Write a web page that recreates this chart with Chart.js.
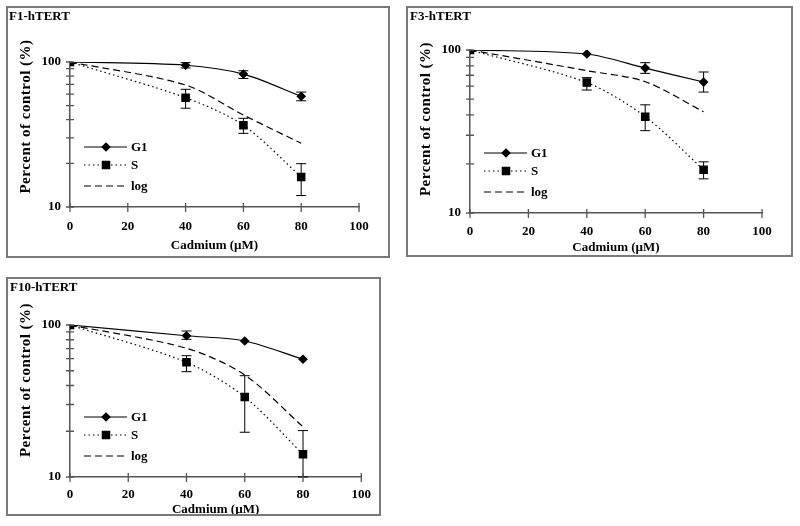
<!DOCTYPE html>
<html><head><meta charset="utf-8">
<script src="https://cdn.jsdelivr.net/npm/chart.js@4.4.1/dist/chart.umd.min.js"></script>
<style>
body{margin:0;width:800px;height:526px;background:#fff;position:relative;overflow:hidden}
canvas{position:absolute}
.frame{position:absolute;border:2px solid #7a7a7a;box-sizing:border-box;pointer-events:none}
</style></head><body>
<canvas id="c1" width="384" height="252" style="left:6px;top:6px"></canvas>
<div class="frame" style="left:6px;top:6px;width:384px;height:252px"></div>
<canvas id="c2" width="387" height="251" style="left:406px;top:6px"></canvas>
<div class="frame" style="left:406px;top:6px;width:387px;height:251px"></div>
<canvas id="c3" width="375" height="239" style="left:6px;top:277px"></canvas>
<div class="frame" style="left:6px;top:277px;width:375px;height:239px"></div>
<script>
// ---- data ----
const cadmium = [0, 40, 60, 80];
const xTicks = [0, 20, 40, 60, 80, 100];
const yTickLabels = [10, 100];
const yMinorTicks = [10, 20, 30, 40, 50, 60, 70, 80, 90, 100];
const seriesNames = ['G1', 'S', 'log'];
const panelTitles = ['F1-hTERT', 'F3-hTERT', 'F10-hTERT'];
const xTitle = 'Cadmium (\u00b5M)';
const yTitle = 'Percent of control (%)';

const f1G1   = [100, 95, 82.5, 58];
const f1G1Hi = [null, 99, 87, 62];
const f1G1Lo = [null, 91, 77, 54];
const f1S    = [100, 56.7, 36.6, 16.1];
const f1SHi  = [null, 64.8, 40.9, 19.9];
const f1SLo  = [null, 48, 32.2, 12.0];
const f1Log  = [100, 69.4, 43.1, 27.5];

const f3G1   = [100, 94.5, 77.5, 63.6];
const f3G1Hi = [null, null, 83.6, 73.3];
const f3G1Lo = [null, null, 71.9, 55.2];
const f3S    = [100, 63.1, 39.0, 18.4];
const f3SHi  = [null, 67.7, 46.1, 20.6];
const f3SLo  = [null, 56.8, 32.0, 16.2];
const f3Log  = [100, 74.7, 63.9, 41.8];

const f10G1   = [100, 85, 78.5, 59.5];
const f10G1Hi = [null, 91.3, null, null];
const f10G1Lo = [null, 80.5, null, null];
const f10S    = [100, 56.8, 33.6, 14.1];
const f10SHi  = [null, 62.8, 46.4, 20.2];
const f10SLo  = [null, 49.3, 19.7, 10];
const f10Log  = [100, 70.3, 46.9, 21.4];

// ---- layout ----
const FONT = '"Liberation Serif","Times New Roman",serif';
const panels = [
  {id:'c1', title:panelTitles[0], g1:f1G1, g1Hi:f1G1Hi, g1Lo:f1G1Lo, s:f1S, sHi:f1SHi, sLo:f1SLo, log:f1Log,
   area:{left:64, top:56, right:353, bottom:201}, tickPad:12, titlePadB:4.6, titlePos:[3,11], yTitlePos:[20,110.5]},
  {id:'c2', title:panelTitles[1], g1:f3G1, g1Hi:f3G1Hi, g1Lo:f3G1Lo, s:f3S, sHi:f3SHi, sLo:f3SLo, log:f3Log,
   area:{left:64, top:44, right:356, bottom:207}, tickPad:11, titlePadB:1.6, titlePos:[4,11], yTitlePos:[20,113]},
  {id:'c3', title:panelTitles[2], g1:f10G1, g1Hi:f10G1Hi, g1Lo:f10G1Lo, s:f10S, sHi:f10SHi, sLo:f10SLo, log:f10Log,
   area:{left:64, top:48, right:363, bottom:200}, tickPad:10, titlePadB:-1.6, titlePos:[4,11], yTitlePos:[20,103]}
];

const decorPlugin = {
  id: 'decor',
  afterDatasetsDraw(chart, args, opts) {
    const ctx = chart.ctx, xs = chart.scales.x, ys = chart.scales.y;
    ctx.save();
    ctx.strokeStyle = '#000'; ctx.lineWidth = 1;
    opts.errors.forEach(e => {
      cadmium.forEach((c, i) => {
        if (e.hi[i] == null || e.lo[i] == null) return;
        const x = xs.getPixelForValue(c);
        const y1 = ys.getPixelForValue(e.hi[i]);
        const y2 = ys.getPixelForValue(e.lo[i]);
        ctx.beginPath();
        ctx.moveTo(x, y1); ctx.lineTo(x, y2);
        ctx.moveTo(x - 5, y1); ctx.lineTo(x + 5, y1);
        ctx.moveTo(x - 5, y2); ctx.lineTo(x + 5, y2);
        ctx.stroke();
      });
    });
    ctx.restore();
  },
  afterDraw(chart, args, opts) {
    const ctx = chart.ctx, xs = chart.scales.x, ys = chart.scales.y, a = chart.chartArea;
    ctx.save();
    ctx.strokeStyle = '#555'; ctx.lineWidth = 1.3;
    ctx.beginPath();
    yMinorTicks.forEach(v => { const y = ys.getPixelForValue(v); ctx.moveTo(a.left - 4, y); ctx.lineTo(a.left + 4, y); });
    xTicks.forEach(v => { const x = xs.getPixelForValue(v); ctx.moveTo(x, a.bottom - 4); ctx.lineTo(x, a.bottom + 5); });
    ctx.stroke();
    // panel title
    ctx.fillStyle = '#000';
    ctx.font = 'bold 13px ' + FONT;
    ctx.textBaseline = 'middle'; ctx.textAlign = 'left';
    ctx.fillText(opts.title, opts.titlePos[0], opts.titlePos[1]);
    // y axis title
    ctx.save();
    ctx.translate(opts.yTitlePos[0], opts.yTitlePos[1]);
    ctx.rotate(-Math.PI / 2);
    ctx.font = 'bold 15px ' + FONT;
    if ('letterSpacing' in ctx) ctx.letterSpacing = '0.5px';
    ctx.textAlign = 'center'; ctx.textBaseline = 'middle';
    ctx.fillText(yTitle, 0, 0);
    ctx.restore();
    // legend inside plot
    const rows = [-60, -42, -21];
    chart.data.datasets.forEach((ds, i) => {
      const y = a.bottom + rows[i];
      const x0 = a.left + 14, x1 = a.left + 57, xm = a.left + 36;
      ctx.strokeStyle = '#000'; ctx.lineWidth = ds.borderWidth;
      ctx.setLineDash(ds.borderDash || []);
      ctx.beginPath(); ctx.moveTo(x0, y); ctx.lineTo(x1, y); ctx.stroke();
      ctx.setLineDash([]);
      if (ds.pointRadius > 0) {
        Chart.helpers.drawPoint(ctx, {pointStyle: ds.pointStyle, radius: ds.pointRadius, borderWidth: 1, rotation: 0}, xm, y);
        ctx.fillStyle = '#000'; ctx.fill();
      }
      ctx.fillStyle = '#000';
      ctx.font = 'bold 13px ' + FONT;
      ctx.textBaseline = 'middle'; ctx.textAlign = 'left';
      ctx.fillText(ds.label, a.left + 61, y + 1);
    });
    ctx.restore();
  }
};

panels.forEach(p => {
  const cv = document.getElementById(p.id);
  const W = cv.width, H = cv.height;
  const padL = 10;
  new Chart(cv, {
    type: 'line',
    data: {
      labels: cadmium,
      datasets: [
        {label: seriesNames[0], data: cadmium.map((c, i) => ({x: c, y: p.g1[i]})), borderColor: '#000', borderWidth: 1.2,
         pointStyle: 'rectRot', pointRadius: 4, pointBackgroundColor: '#000', pointBorderColor: '#000', tension: 0.3},
        {label: seriesNames[1], data: cadmium.map((c, i) => ({x: c, y: p.s[i]})), borderColor: '#000', borderWidth: 1.2,
         borderDash: [1.5, 3], pointStyle: 'rect', pointRadius: 5.2, pointBackgroundColor: '#000', pointBorderColor: '#000', tension: 0.3},
        {label: seriesNames[2], data: cadmium.map((c, i) => ({x: c, y: p.log[i]})), borderColor: '#000', borderWidth: 1.2,
         borderDash: [7, 4], pointRadius: 0, tension: 0.3}
      ]
    },
    options: {
      responsive: false, animation: false, devicePixelRatio: 1,
      layout: {padding: {left: padL, top: p.area.top, right: W - p.area.right, bottom: 0}},
      plugins: {
        legend: {display: false}, tooltip: {enabled: false},
        decor: {title: p.title, titlePos: p.titlePos, yTitlePos: p.yTitlePos,
          errors: [{hi: p.g1Hi, lo: p.g1Lo}, {hi: p.sHi, lo: p.sLo}]}
      },
      scales: {
        x: {
          type: 'linear', min: 0, max: 100,
          afterBuildTicks: s => { s.ticks = xTicks.map(v => ({value: v})); },
          afterFit: s => { s.height = H - p.area.bottom; },
          grid: {display: false, drawTicks: false},
          border: {display: true, color: '#555', width: 1.5},
          ticks: {padding: p.tickPad, color: '#000', font: {family: FONT, size: 13, weight: 'bold'}, maxRotation: 0},
          title: {display: true, text: xTitle, color: '#000', padding: {top: 0, bottom: p.titlePadB},
                  font: {family: FONT, size: 13, weight: 'bold'}}
        },
        y: {
          type: 'logarithmic', min: 10, max: 100,
          afterBuildTicks: s => { s.ticks = yTickLabels.map(v => ({value: v})); },
          afterFit: s => { s.width = p.area.left - padL; },
          grid: {display: false, drawTicks: false},
          border: {display: true, color: '#555', width: 1.5},
          ticks: {padding: 9, color: '#000', font: {family: FONT, size: 13, weight: 'bold'}, callback: v => String(v)},
          title: {display: false}
        }
      }
    },
    plugins: [decorPlugin]
  });
});
</script>
</body></html>
